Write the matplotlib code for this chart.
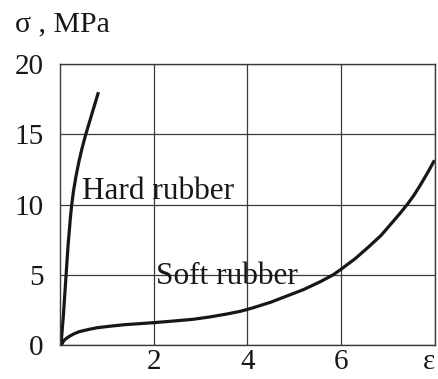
import matplotlib
matplotlib.use('Agg')
import matplotlib.pyplot as plt

plt.rcParams['font.family'] = ['Liberation Serif', 'DejaVu Serif']

# strain / stress readings for the two rubbers
hard_eps = [0.02, 0.045, 0.07, 0.09, 0.11, 0.13, 0.15, 0.17, 0.195, 0.22, 0.25,
            0.29, 0.34, 0.40, 0.47, 0.55, 0.64, 0.73, 0.82]
hard_sig = [0, 1, 2, 3, 4, 5, 6, 7, 8, 9, 10,
            11, 12, 13, 14, 15, 16, 17, 18]

soft_eps = [0.03, 0.06, 0.1, 0.19, 0.3, 0.41, 0.6, 0.79, 1.1, 1.39, 1.7, 2.0, 2.4,
            2.84, 3.2, 3.55, 3.85, 4.12, 4.5, 4.85, 5.2, 5.55, 5.83, 6.0, 6.3,
            6.59, 6.85, 7.07, 7.25, 7.42, 7.56, 7.70, 7.85, 7.99]
soft_sig = [0.0, 0.2, 0.38, 0.6, 0.8, 0.95, 1.1, 1.23, 1.35, 1.45, 1.52, 1.59, 1.7,
            1.83, 2.0, 2.2, 2.4, 2.65, 3.05, 3.5, 3.95, 4.5, 5.0, 5.4, 6.15,
            7.0, 7.8, 8.65, 9.35, 10.05, 10.7, 11.45, 12.3, 13.15]

xticks = [2, 4, 6, 8]
xlabels = ['2', '4', '6', 'ε']
yticks = [0, 5, 10, 15, 20]

fig = plt.figure(figsize=(4.38, 3.79), dpi=100)
ax = fig.add_axes([0.137, 0.0897, 0.856, 0.7413])

ax.plot(hard_eps, hard_sig, color='#1a1616', lw=2.3, solid_capstyle='butt', solid_joinstyle='round')
ax.plot(soft_eps, soft_sig, color='#1a1616', lw=2.3, solid_capstyle='butt', solid_joinstyle='round')

ax.set_xlim(0, 8)
ax.set_ylim(0, 20)
ax.set_xticks(xticks)
ax.set_xticklabels(xlabels)
ax.set_yticks(yticks)
ax.tick_params(length=0, labelsize=21, colors='#1a1616', pad=3)
ax.tick_params(axis='y', pad=12)
ax.get_xticklabels()[-1].set_horizontalalignment('right')
ax.grid(True, color='#3a3a3a', lw=0.9)
for s in ax.spines.values():
    s.set_color('#3a3a3a')
    s.set_linewidth(1.0)

ax.text(0.46, 10.95, 'Hard rubber', fontsize=22.5, color='#1a1616', va='center', ha='left')
ax.text(2.05, 4.85, 'Soft rubber', fontsize=22.5, color='#1a1616', va='center', ha='left')

fig.text(15 / 438, 1 - 31 / 379, 'σ , MPa', fontsize=21.5, color='#1a1616', ha='left', va='baseline')

fig.savefig('out.png', dpi=100)
